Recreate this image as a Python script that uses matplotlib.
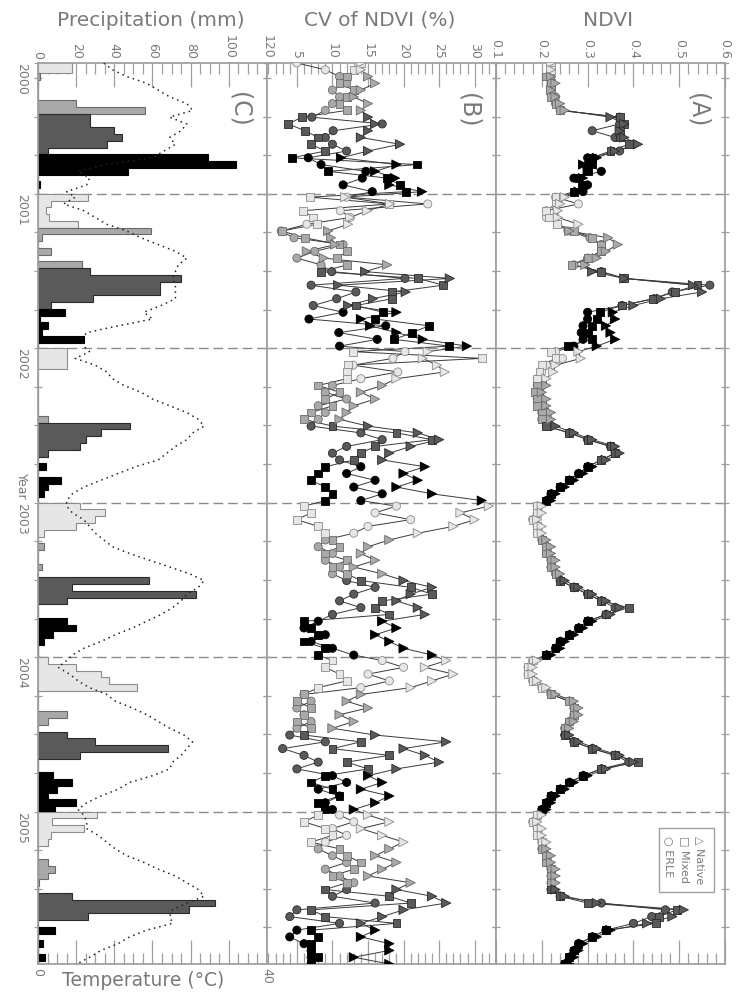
import numpy as np
import matplotlib
matplotlib.use("Agg")
import matplotlib.pyplot as plt
from matplotlib.patches import Rectangle
from matplotlib.ticker import MultipleLocator

# -----------------------
# Data: 16-day composites (2000 starts with composite 4, DOY 49)
# -----------------------
years = [2000] * 20 + [2001] * 23 + [2002] * 23 + [2003] * 23 + [2004] * 23 + [2005] * 23
comp = list(range(3, 23)) + list(range(23)) * 5

precip = [
    18, 18, 1, 0, 0, 0, 20, 56, 27, 27, 40, 44, 36, 5, 89, 104, 47, 0, 1, 0,
    26, 7, 4, 6, 21, 59, 2, 0, 7, 0, 23, 27, 75, 64, 64, 29, 7, 14, 1, 5, 2, 24, 0,
    15, 15, 15, 0, 0, 0, 0, 0, 0, 0, 5, 48, 33, 25, 22, 5, 0, 4, 0, 12, 5, 3, 0,
    22, 35, 30, 20, 3, 0, 3, 0, 0, 2, 0, 58, 18, 83, 15, 0, 0, 15, 20, 8, 3, 0, 0,
    5, 20, 33, 37, 52, 0, 0, 0, 15, 5, 0, 15, 30, 68, 22, 0, 0, 8, 18, 10, 5, 20, 9,
    31, 7.5, 24, 7, 5, 0, 0, 5.5, 8.7, 5.2, 0.7, 0, 18, 93, 79, 26, 0, 8.7, 0, 2.6, 0, 3.8, 0,
]

temperature = [
    11.5, 13, 15.5, 19, 21, 23, 26, 27, 23, 26, 25, 23, 24, 22, 20, 12, 7, 9, 8.5, 5,
    6.5, 4.5, 8, 10, 12, 15.5, 18, 21, 24, 26, 24.5, 24, 23.5, 24, 24, 24, 21.5, 18.5, 20, 14, 8.5, 7.5, 8,
    9, 6.5, 10, 12, 13, 15, 18, 20, 23, 26, 28, 29, 27, 26, 24, 22.5, 21, 17, 14, 11, 8, 6, 5,
    5, 6, 8, 9, 10, 11.5, 13, 16, 19.5, 23, 26.5, 29, 28, 26, 25, 23.5, 21.5, 19, 16.5, 13.5, 11, 8, 6,
    5, 3.5, 5.5, 7, 9, 12, 13.5, 16.5, 19, 21, 23, 25.5, 27, 26, 25, 23.5, 23, 20, 16, 14, 11, 8.5, 7,
    8, 8.5, 8.5, 10.5, 12, 13.5, 15.5, 18.5, 21, 24, 26, 28, 29, 26, 23.5, 23, 23.5, 19, 16, 14, 11, 9, 6.8,
]

ndvi_native = [
    0.22, 0.22, 0.22, 0.23, 0.22, 0.23, 0.24, 0.25, 0.35, 0.38, 0.37, 0.38, 0.41, 0.36, 0.32, 0.29, 0.30, 0.29, 0.29, 0.28,
    0.25, 0.24, 0.235, 0.235, 0.28, 0.26, 0.345, 0.366, 0.34, 0.32, 0.295, 0.31, 0.38, 0.53, 0.55, 0.46, 0.40, 0.355, 0.36, 0.34, 0.35, 0.36, 0.32,
    0.28, 0.285, 0.23, 0.225, 0.21, 0.21, 0.2, 0.21, 0.21, 0.22, 0.22, 0.23, 0.27, 0.31, 0.36, 0.37, 0.34, 0.31, 0.29, 0.27, 0.25, 0.23, 0.22,
    0.2, 0.2, 0.19, 0.2, 0.2, 0.21, 0.22, 0.22, 0.23, 0.23, 0.24, 0.25, 0.28, 0.31, 0.34, 0.37, 0.35, 0.31, 0.29, 0.27, 0.25, 0.24, 0.22,
    0.19, 0.18, 0.18, 0.19, 0.21, 0.23, 0.27, 0.28, 0.28, 0.27, 0.26, 0.26, 0.28, 0.32, 0.37, 0.40, 0.34, 0.30, 0.27, 0.25, 0.23, 0.22, 0.21,
    0.2, 0.19, 0.2, 0.2, 0.21, 0.21, 0.22, 0.22, 0.23, 0.23, 0.23, 0.23, 0.25, 0.32, 0.51, 0.485, 0.43, 0.35, 0.32, 0.29, 0.28, 0.27, 0.26,
]
ndvi_mixed = [
    0.22, 0.22, 0.21, 0.22, 0.22, 0.22, 0.23, 0.24, 0.37, 0.38, 0.37, 0.37, 0.39, 0.35, 0.31, 0.31, 0.30, 0.28, 0.29, 0.27,
    0.23, 0.23, 0.21, 0.215, 0.233, 0.27, 0.31, 0.33, 0.33, 0.30, 0.265, 0.33, 0.38, 0.54, 0.49, 0.443, 0.375, 0.327, 0.32, 0.31, 0.30, 0.31, 0.257,
    0.22, 0.23, 0.2, 0.195, 0.19, 0.19, 0.185, 0.19, 0.19, 0.2, 0.2, 0.21, 0.26, 0.30, 0.35, 0.36, 0.33, 0.30, 0.28, 0.26, 0.24, 0.22, 0.21,
    0.19, 0.19, 0.18, 0.19, 0.19, 0.2, 0.21, 0.21, 0.22, 0.22, 0.23, 0.24, 0.27, 0.30, 0.33, 0.39, 0.34, 0.30, 0.28, 0.26, 0.24, 0.23, 0.21,
    0.18, 0.17, 0.17, 0.18, 0.2, 0.22, 0.26, 0.27, 0.27, 0.26, 0.25, 0.25, 0.27, 0.31, 0.36, 0.41, 0.33, 0.29, 0.26, 0.24, 0.22, 0.21, 0.2,
    0.19, 0.18, 0.19, 0.19, 0.2, 0.2, 0.21, 0.21, 0.22, 0.22, 0.22, 0.22, 0.24, 0.30, 0.495, 0.455, 0.45, 0.34, 0.31, 0.28, 0.27, 0.26, 0.25,
]
ndvi_erle = [
    0.22, 0.22, 0.22, 0.22, 0.22, 0.23, 0.23, 0.24, 0.37, 0.37, 0.31, 0.36, 0.40, 0.37, 0.30, 0.30, 0.33, 0.27, 0.30, 0.29,
    0.23, 0.28, 0.21, 0.21, 0.235, 0.257, 0.305, 0.33, 0.33, 0.30, 0.27, 0.33, 0.38, 0.567, 0.485, 0.445, 0.375, 0.30, 0.30, 0.29, 0.286, 0.29, 0.27,
    0.23, 0.245, 0.21, 0.2, 0.19, 0.19, 0.19, 0.19, 0.2, 0.2, 0.2, 0.21, 0.26, 0.30, 0.35, 0.36, 0.33, 0.30, 0.28, 0.26, 0.24, 0.22, 0.21,
    0.19, 0.19, 0.18, 0.19, 0.19, 0.2, 0.21, 0.21, 0.22, 0.22, 0.23, 0.24, 0.27, 0.30, 0.33, 0.36, 0.34, 0.30, 0.28, 0.26, 0.24, 0.23, 0.21,
    0.18, 0.17, 0.17, 0.18, 0.2, 0.22, 0.26, 0.27, 0.27, 0.26, 0.25, 0.25, 0.27, 0.31, 0.36, 0.39, 0.33, 0.29, 0.26, 0.24, 0.22, 0.21, 0.2,
    0.19, 0.18, 0.19, 0.19, 0.2, 0.2, 0.21, 0.21, 0.22, 0.22, 0.22, 0.22, 0.24, 0.33, 0.47, 0.44, 0.40, 0.34, 0.31, 0.28, 0.27, 0.26, 0.25,
]

cv_native = [
    14, 14, 15, 16, 14, 13, 15, 14, 15, 16, 15, 14, 19.5, 15, 11.2, 19, 16, 18.8, 18, 22.6,
    11.8, 18.1, 14.9, 12.5, 12.2, 9.4, 9.8, 10.4, 6.4, 8.8, 17.7, 14.6, 26.5, 10.8, 20.3, 15.7, 12.2, 19, 14, 15.3, 19, 22.7, 28.9,
    23.4, 22.7, 24.7, 25.8, 19, 17, 14, 16, 13, 12, 11, 15, 22, 25, 21, 18, 17, 23, 20, 22, 19, 24, 31,
    32, 28, 30, 27, 22, 18, 15, 14, 16, 13, 17, 20, 24, 21, 19, 22, 23, 17, 19, 16, 18, 20, 24,
    26, 23, 27, 24, 21, 14, 12, 15, 11, 13, 10, 16, 26, 20, 23, 25, 19, 15, 17, 14, 18, 16, 13,
    15, 18, 14, 17, 20, 18, 16, 19, 17, 15, 21, 19, 24, 26, 20, 17, 14, 16, 14, 18, 18, 13, 18,
]
cv_mixed = [
    14, 13, 12, 11, 13, 12, 11, 12, 5.7, 3.8, 6.1, 8, 7, 9, 4.3, 21.9, 9.4, 17.7, 19.5, 20.3,
    6.8, 18, 5.9, 7.3, 7.8, 2.9, 6.1, 11, 12.1, 10.6, 12.1, 8.4, 22, 25.6, 18.4, 18.4, 13.3, 17.1, 16, 23.6, 21.2, 18.7, 26.4,
    12.9, 31, 12.2, 12.1, 12, 8, 11, 9, 10, 7, 6, 10, 19, 24, 16, 14, 13, 9, 8, 7, 9, 10, 9,
    6, 7, 5, 8, 9, 10, 11, 9, 12, 10, 12, 14, 21, 24, 17, 16, 18, 6, 7, 8, 6, 9, 8,
    10, 9, 11, 12, 8, 6, 5, 7, 6, 5, 7, 6, 14, 10, 18, 12, 15, 9, 7, 10, 11, 8, 9,
    8, 6, 9, 10, 7, 11, 12, 14, 13, 10, 12, 9, 18, 21, 7, 9, 19, 7, 8, 7, 7, 8, 7,
]
cv_erle = [
    5, 9, 11, 12, 10, 11, 10, 9, 7.1, 17, 10.1, 9, 10, 12, 6.6, 8.4, 14.7, 14.2, 11.5, 15.6,
    12, 23.4, 11.1, 12.5, 6.4, 2.8, 4.6, 11.5, 7.5, 5, 8.4, 9.9, 20.2, 7, 13.3, 10.6, 7.3, 11.5, 6.7, 17.5, 10.9, 16.3, 11,
    20.2, 18.5, 12.9, 19.2, 14, 10, 9, 12, 8, 9, 8, 7, 14, 17, 12, 10, 11, 14, 12, 16, 13, 17, 14,
    19, 16, 21, 15, 13, 9, 8, 10, 9, 11, 10, 12, 16, 13, 11, 14, 10, 8, 6, 9, 7, 10, 13,
    17, 20, 15, 18, 14, 6, 7, 5, 6, 7, 5, 4, 9, 3, 6, 8, 5, 10, 12, 8, 11, 9, 10,
    11, 13, 10, 12, 9, 8, 10, 12, 9, 11, 13, 12, 10, 16, 5, 4, 11, 5, 4, 6, 7, 7, 7,
]

year_labels = ["2000", "2001", "2002", "2003", "2004", "2005"]

# -----------------------
# Derived time axis
# -----------------------
years = np.array(years)
comp = np.array(comp)
t_mid = years + (16 * comp + 8) / 365.0
t_lo = years + (16 * comp) / 365.0
t_hi = t_lo + 16 / 365.0
season = np.array([0] * 5 + [1] * 6 + [2] * 6 + [3] * 6)[comp]

fill_col = ["#e6e6e6", "#a9a9a9", "#5a5a5a", "#000000"]
edge_col = ["#8c8c8c", "#6a6a6a", "#2a2a2a", "#000000"]
gray_txt = "#7a7a7a"
frame_col = "#a0a0a0"

fig = plt.figure(figsize=(7.37, 10), dpi=100)
left, w, bot, h = 38 / 737, 229 / 737, 36 / 1000, 901 / 1000
axC = fig.add_axes([left, bot, w, h])
axB = fig.add_axes([left + w, bot, w, h])
axA = fig.add_axes([left + 2 * w, bot, w, h])

t0, t1 = t_mid[0], t_mid[-1]

for ax in (axC, axB, axA):
    ax.set_ylim(t1, t0)
    for s in ax.spines.values():
        s.set_color(frame_col)
        s.set_linewidth(1.3)
    ax.set_yticks([t0, 2001, 2002, 2003, 2004, 2005])
    ax.yaxis.set_minor_locator(MultipleLocator(0.25))
    ax.tick_params(axis="y", which="both", direction="inout", left=True, right=True,
                   length=6, width=0.9, colors=frame_col, labelcolor=gray_txt,
                   labelsize=9, labelleft=False, pad=4)
    for yr in range(2001, 2006):
        ax.axhline(yr, color="#8a8a8a", lw=1.0, dashes=(7, 3.5), zorder=0.5)

# year labels on the outer left
axC.set_yticklabels(year_labels)
axC.tick_params(axis="y", labelleft=True)
for lab in axC.get_yticklabels():
    lab.set_rotation(-90)
    lab.set_va("top")
    lab.set_ha("right")

# -----------------------
# (C) precipitation + temperature
# -----------------------
axC.set_xlim(0, 120)
axC.xaxis.set_major_locator(MultipleLocator(20))
axC.xaxis.set_minor_locator(MultipleLocator(5))

precip = np.array(precip, dtype=float)
i = 0
n = len(precip)
while i < n:
    j = i
    while j + 1 < n and season[j + 1] == season[i]:
        j += 1
    xs, ys = [0], [t_lo[i]]
    for k in range(i, j + 1):
        xs += [precip[k], precip[k]]
        ys += [t_lo[k], t_hi[k]]
    xs.append(0)
    ys.append(t_hi[j])
    axC.fill(xs, ys, facecolor=fill_col[season[i]], edgecolor=edge_col[season[i]],
             lw=0.8, zorder=2)
    i = j + 1

# temperature on its own (invisible) axes over panel C
axT = fig.add_axes(axC.get_position())
axT.set_xlim(0, 40)
axT.set_ylim(t1, t0)
axT.axis("off")
axT.plot(temperature, t_mid, color="#222222", lw=1.1, ls=(0, (1, 2.6)), zorder=3)

axC.text(0, -0.004, "0", transform=axC.transAxes, rotation=-90, ha="center",
         va="top", fontsize=9, color=gray_txt)
axC.text(1, -0.004, "40", transform=axC.transAxes, rotation=-90, ha="center",
         va="top", fontsize=9, color=gray_txt)
fig.text(62 / 737, 1 - 980 / 1000, "Temperature (°C)", ha="left", va="center",
         fontsize=13.5, color=gray_txt)

# -----------------------
# (B) CV and (A) NDVI
# -----------------------
axB.set_xlim(0.8, 33)
axB.set_xticks([5, 10, 15, 20, 25, 30])
axB.xaxis.set_minor_locator(MultipleLocator(1))

axA.set_xlim(0.1, 0.6)
axA.xaxis.set_major_locator(MultipleLocator(0.1))
axA.xaxis.set_minor_locator(MultipleLocator(0.02))

fc = np.array(fill_col)[season]
ec = np.array(edge_col)[season]
series = [("o", 34, ndvi_erle, cv_erle), ("s", 32, ndvi_mixed, cv_mixed),
          (">", 44, ndvi_native, cv_native)]
for ax, use_ndvi in ((axA, True), (axB, False)):
    for mk, sz, nd, cv in series:
        vals = nd if use_ndvi else cv
        ax.plot(vals, t_mid, color="#3a3a3a", lw=0.7, zorder=3)
        ax.scatter(vals, t_mid, marker=mk, s=sz, c=fc, edgecolors=ec,
                   linewidths=0.6, zorder=4)

for ax in (axC, axB, axA):
    ax.xaxis.tick_top()
    ax.tick_params(axis="x", which="both", direction="in", top=True, bottom=True,
                   labeltop=True, labelbottom=False, colors=frame_col,
                   labelcolor=gray_txt, labelsize=9, pad=3)
    ax.tick_params(axis="x", which="major", length=17, width=0.9)
    ax.tick_params(axis="x", which="minor", length=8, width=0.9)
    for lab in ax.get_xticklabels():
        lab.set_rotation(-90)
        lab.set_va("bottom")
        lab.set_ha("center")

# panel letters
for ax, letter in ((axC, "(C)"), (axB, "(B)"), (axA, "(A)")):
    ax.text(0.88, 0.948, letter, transform=ax.transAxes, rotation=-90,
            ha="center", va="center", fontsize=17, color=gray_txt, zorder=6)

# titles
fig.text(151 / 737, 1 - 20 / 1000, "Precipitation (mm)", ha="center", va="center",
         fontsize=14.5, color=gray_txt)
fig.text(380 / 737, 1 - 20 / 1000, "CV of NDVI (%)", ha="center", va="center",
         fontsize=14.5, color=gray_txt)
fig.text(608 / 737, 1 - 20 / 1000, "NDVI", ha="center", va="center",
         fontsize=14.5, color=gray_txt)
fig.text(28 / 737, 1 - 500 / 1000, "Year", rotation=-90, ha="right", va="bottom",
         fontsize=9, color=gray_txt)

# legend box
axA.add_patch(Rectangle((0.712, 0.080), 0.24, 0.071, transform=axA.transAxes,
                        fill=False, edgecolor=frame_col, lw=1.0, zorder=5))
for xf, txt in ((0.891, "\u25b3 Native"), (0.825, "\u25a1 Mixed"), (0.755, "\u25cb ERLE")):
    axA.text(xf, 0.142, txt, transform=axA.transAxes, rotation=-90, ha="center",
             va="top", fontsize=8, color=gray_txt, zorder=6)

fig.savefig("out.png", dpi=100)
